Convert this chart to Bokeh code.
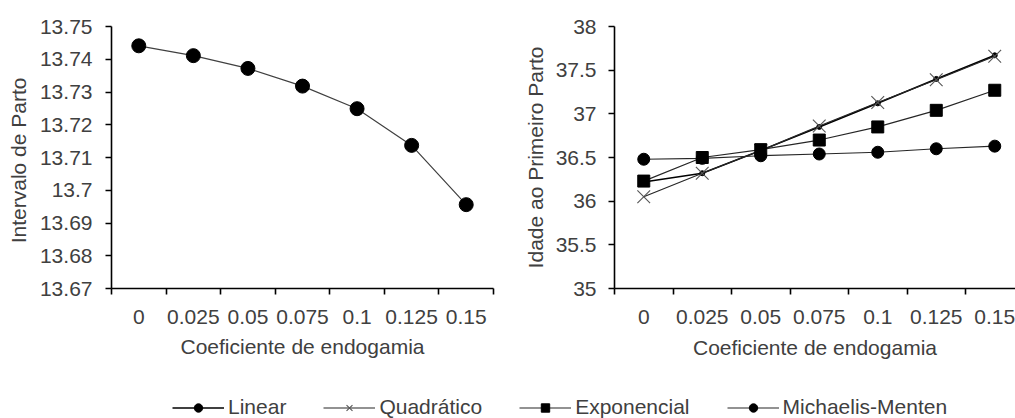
import numpy as np
from bokeh.plotting import figure
from bokeh.layouts import column, row
from bokeh.models import (Range1d, FixedTicker, CustomJSTickFormatter, Legend,
                          LegendItem)
from bokeh.embed import file_html
from bokeh.resources import INLINE

# ---------------- data ----------------
coeficiente = ["0", "0.025", "0.05", "0.075", "0.1", "0.125", "0.15"]
intervalo_parto = [13.7441, 13.7411, 13.7372, 13.7318, 13.7249, 13.7137, 13.6956]

idade_linear = [36.22, 36.32, 36.58, 36.85, 37.12, 37.40, 37.67]
idade_quadratico = [36.05, 36.32, 36.58, 36.86, 37.13, 37.39, 37.66]
idade_exponencial = [36.23, 36.50, 36.59, 36.70, 36.85, 37.04, 37.27]
idade_michaelis = [36.48, 36.49, 36.52, 36.54, 36.56, 36.60, 36.63]

left_yticks = [13.67, 13.68, 13.69, 13.70, 13.71, 13.72, 13.73, 13.74, 13.75]
right_yticks = [35, 35.5, 36, 36.5, 37, 37.5, 38]

x_title = "Coeficiente de endogamia"
left_ytitle = "Intervalo  de Parto"
right_ytitle = "Idade ao Primeiro Parto"
series_names = ["Linear", "Quadrático", "Exponencial", "Michaelis-Menten"]

# --------------- styling ---------------
FONT = "Liberation Sans"
FS = "21px"
TXT = "#404040"

xs = [i + 0.5 for i in range(len(coeficiente))]
fmt = CustomJSTickFormatter(code="return String(+tick.toFixed(2));")


def style(p, yticks, ytitle, xlabel_standoff, ylab_standoff, ylabel_standoff):
    p.outline_line_color = None
    p.grid.visible = False
    p.background_fill_color = "white"
    for ax in (p.xaxis[0], p.yaxis[0]):
        ax.axis_line_color = "black"
        ax.axis_line_width = 1.6
        ax.major_label_text_font = FONT
        ax.major_label_text_font_size = FS
        ax.major_label_text_color = TXT
        ax.axis_label_text_font = FONT
        ax.axis_label_text_font_size = FS
        ax.axis_label_text_font_style = "normal"
        ax.axis_label_text_color = TXT
    xa = p.xaxis[0]
    xa.ticker = FixedTicker(ticks=xs, minor_ticks=list(range(len(coeficiente) + 1)))
    xa.major_label_overrides = {x: c for x, c in zip(xs, coeficiente)}
    xa.major_tick_out = 0
    xa.major_tick_in = 0
    xa.minor_tick_out = 6
    xa.minor_tick_in = 0
    xa.minor_tick_line_color = "black"
    xa.minor_tick_line_width = 1.6
    xa.major_label_standoff = 15
    xa.axis_label = x_title
    xa.axis_label_standoff = xlabel_standoff

    ya = p.yaxis[0]
    ya.ticker = FixedTicker(ticks=yticks)
    ya.formatter = fmt
    ya.major_tick_out = 6
    ya.major_tick_in = 0
    ya.major_tick_line_color = "black"
    ya.major_tick_line_width = 1.6
    ya.minor_tick_line_color = None
    ya.major_label_standoff = ylab_standoff
    ya.axis_label = ytitle
    ya.axis_label_standoff = ylabel_standoff


W_TOTAL, H_TOTAL = 1015, 418
H = 370
# --------------- left chart ---------------
p1 = figure(width=500, height=H, output_backend="svg", toolbar_location=None,
            x_range=Range1d(0, len(coeficiente)),
            y_range=Range1d(left_yticks[0], left_yticks[-1]),
            min_border_left=111, min_border_right=7, min_border_top=23,
            min_border_bottom=H - 23 - 265)
style(p1, left_yticks, left_ytitle, 8, 13, 7)
p1.line(xs, intervalo_parto, line_color="#404040", line_width=1.2)
p1.scatter(xs, intervalo_parto, marker="circle", size=14, fill_color="black",
           line_color="black")

# --------------- right chart ---------------
p2 = figure(width=W_TOTAL - 500, height=H, output_backend="svg", toolbar_location=None,
            x_range=Range1d(0, 401 / 58.5),
            y_range=Range1d(right_yticks[0], right_yticks[-1]),
            min_border_left=114, min_border_right=0, min_border_top=26,
            min_border_bottom=H - 26 - 268)
style(p2, right_yticks, right_ytitle, 9, 12, 6)

LC = "#262626"
series = [idade_linear, idade_quadratico, idade_exponencial, idade_michaelis]
styles = [
    dict(marker="circle", size=5, lc="black", lw=1.6, fill="black", mlc="black", mlw=1),
    dict(marker="x", size=18, lc=LC, lw=1.2, fill=None, mlc="#555555", mlw=1.1),
    dict(marker="square", size=12, lc=LC, lw=1.2, fill="black", mlc="black", mlw=1),
    dict(marker="circle", size=12, lc=LC, lw=1.2, fill="black", mlc="black", mlw=1),
]
for ys, s in zip(series, styles):
    p2.line(xs, ys, line_color=s["lc"], line_width=s["lw"])
    p2.scatter(xs, ys, marker=s["marker"], size=s["size"], fill_color=s["fill"],
               line_color=s["mlc"], line_width=s["mlw"])

# --------------- legend ---------------
lf = figure(width=W_TOTAL, height=H_TOTAL - H, output_backend="svg",
            toolbar_location=None, x_range=Range1d(0, 1), y_range=Range1d(0, 1),
            min_border=0, outline_line_color=None)
lf.axis.visible = False
lf.grid.visible = False

items = []
for name, ys, s in zip(series_names, series, styles):
    # same series drawn in the legend panel; its values lie outside the (0, 1)
    # range of that panel, so only the legend glyphs are visible
    rl = lf.line(xs, ys, line_color=s["lc"], line_width=s["lw"])
    rs = lf.scatter(xs, ys, marker=s["marker"], size=8, fill_color=s["fill"],
                    line_color=s["mlc"], line_width=s["mlw"])
    items.append(LegendItem(label=name, renderers=[rl, rs]))

legend = Legend(items=items, orientation="horizontal", location=(172, -1),
                glyph_width=52, glyph_height=21, label_height=21,
                label_standoff=4, spacing=37, padding=0, margin=0,
                border_line_color=None, background_fill_alpha=0,
                label_text_font=FONT, label_text_font_size=FS,
                label_text_color=TXT)
lf.add_layout(legend, "center")

layout = column(row(p1, p2), lf)
open("out.html", "w").write(file_html(layout, INLINE))
